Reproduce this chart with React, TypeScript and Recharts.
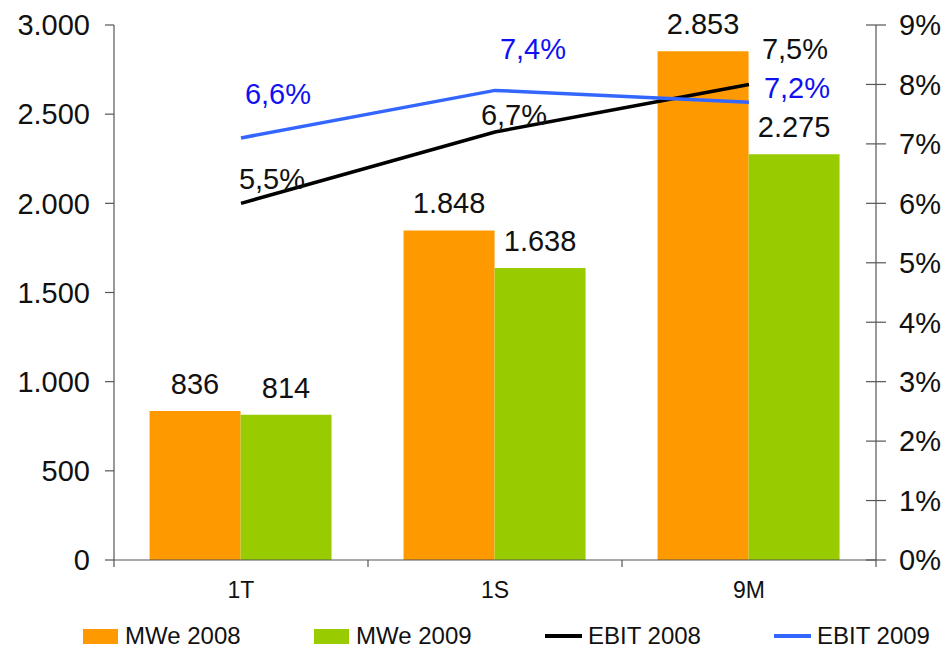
import React from 'react';
import { ComposedChart, Bar, Line, XAxis, YAxis, Legend, LabelList } from 'recharts';

const categories = ['1T', '1S', '9M'];
const mwe2008 = [836, 1848, 2853];
const mwe2009 = [814, 1638, 2275];
// plotted positions on the right (%) axis
const ebit2008 = [6.0, 7.2, 8.0];
const ebit2009 = [7.1, 7.9, 7.7];
// printed labels
const ebit2008Labels = ['5,5%', '6,7%', '7,5%'];
const ebit2009Labels = ['6,6%', '7,4%', '7,2%'];
const leftTicks = [0, 500, 1000, 1500, 2000, 2500, 3000];
const rightTicks = [0, 1, 2, 3, 4, 5, 6, 7, 8, 9];

const data = categories.map((c, i) => ({
  cat: c,
  mwe2008: mwe2008[i],
  mwe2009: mwe2009[i],
  ebit2008: ebit2008[i],
  ebit2009: ebit2009[i],
}));

const FONT = '"Liberation Sans", Arial, Helvetica, sans-serif';
const TEXT = '#111';
const AXIS = '#555';
const ORANGE = '#FF9900';
const GREEN = '#99CC00';
const BLACK = '#000000';
const BLUE = '#3366FF';
const BLUE_TEXT = '#1010F0';
const BIG = 29;

const fmt = (v: number) => {
  const s = String(Math.round(v));
  return s.replace(/\B(?=(\d{3})+(?!\d))/g, '.');
};

// label offsets (text centre relative to the point)
const black2008Off = [
  [31, -24],
  [19, -17],
  [46, -35],
];
const blue2009Off = [
  [37, -44],
  [38, -41],
  [48, -14],
];

const makeLineLabel = (labels: string[], offs: number[][], color: string) => (props: any) => {
  const { x, y, index } = props;
  if (x == null || y == null) return null;
  const [dx, dy] = offs[index] || [0, 0];
  return (
    <text
      x={x + dx}
      y={y + dy}
      textAnchor="middle"
      dominantBaseline="central"
      fontSize={BIG}
      fontFamily={FONT}
      fill={color}
    >
      {labels[index]}
    </text>
  );
};

const X_TICK_SIZE = 7;
const X_TICK_MARGIN = 15;

const XTick = (props: any) => {
  const { x, y, payload, index } = props;
  const half = payload && payload.offset ? payload.offset : 0;
  const axisY = y - X_TICK_SIZE - X_TICK_MARGIN;
  const lines = [<line key="l" x1={x - half} x2={x - half} y1={axisY} y2={axisY + X_TICK_SIZE} stroke={AXIS} strokeWidth={1.2} />];
  if (index === categories.length - 1) {
    lines.push(<line key="r" x1={x + half} x2={x + half} y1={axisY} y2={axisY + X_TICK_SIZE} stroke={AXIS} strokeWidth={1.2} />);
  }
  return (
    <g>
      {lines}
      <text x={x} y={y} dy="0.71em" textAnchor="middle" fontSize={23} fontFamily={FONT} fill={TEXT}>
        {payload.value}
      </text>
    </g>
  );
};

const R_TICK_SIZE = 10;
const R_TICK_MARGIN = 13;
const RightTick = (props: any) => {
  const { x, y, payload } = props;
  const ax = x - R_TICK_SIZE - R_TICK_MARGIN;
  return (
    <g>
      <line x1={ax - 10} x2={ax + 10} y1={y} y2={y} stroke={AXIS} strokeWidth={1.2} />
      <text x={x} y={y} dy="0.355em" textAnchor="start" fontSize={BIG} fontFamily={FONT} fill={TEXT}>
        {payload.value}%
      </text>
    </g>
  );
};

const legendItems = [
  { name: 'MWe 2008', color: ORANGE, kind: 'rect' },
  { name: 'MWe 2009', color: GREEN, kind: 'rect' },
  { name: 'EBIT 2008', color: BLACK, kind: 'line' },
  { name: 'EBIT 2009', color: BLUE, kind: 'line' },
];
const legendLeft = [83, 314, 545, 774];

const LegendContent = () => (
  <div style={{ position: 'relative', width: 945, height: 53, fontFamily: FONT }}>
    {legendItems.map((it, i) => (
      <div
        key={it.name}
        style={{
          position: 'absolute',
          left: legendLeft[i],
          top: 29,
          height: 22,
          display: 'flex',
          alignItems: 'center',
          whiteSpace: 'nowrap',
        }}
      >
        {it.kind === 'rect' ? (
          <div style={{ width: 35, height: 15, background: it.color, marginRight: 7 }} />
        ) : (
          <div style={{ width: 37, height: 4, background: it.color, marginRight: 6 }} />
        )}
        <span style={{ fontSize: 24, color: TEXT, lineHeight: '22px' }}>{it.name}</span>
      </div>
    ))}
  </div>
);

export default function App() {
  return (
    <div style={{ position: 'absolute', left: 0, top: 0, width: 945, height: 649, background: '#fff' }}>
      <ComposedChart
        width={945}
        height={649}
        data={data}
        margin={{ top: 25, right: 0, bottom: 0, left: 0 }}
        barCategoryGap="14%"
        barGap={0}
      >
        <XAxis
          dataKey="cat"
          height={36}
          tickLine={false}
          tickSize={X_TICK_SIZE}
          tickMargin={X_TICK_MARGIN}
          tick={<XTick />}
          axisLine={{ stroke: AXIS, strokeWidth: 1.2 }}
          interval={0}
        />
        <YAxis
          yAxisId="left"
          orientation="left"
          width={114}
          domain={[0, 3000]}
          ticks={leftTicks}
          tickFormatter={fmt}
          tickSize={9}
          tickMargin={15}
          tick={{ fontSize: BIG, fontFamily: FONT, fill: TEXT }}
          tickLine={{ stroke: AXIS, strokeWidth: 1.2 }}
          axisLine={{ stroke: AXIS, strokeWidth: 1.2 }}
          interval={0}
        />
        <YAxis
          yAxisId="right"
          orientation="right"
          width={69}
          domain={[0, 9]}
          ticks={rightTicks}
          tickSize={R_TICK_SIZE}
          tickMargin={R_TICK_MARGIN}
          tickLine={false}
          tick={<RightTick />}
          axisLine={{ stroke: AXIS, strokeWidth: 1.2 }}
          interval={0}
        />
        <Legend verticalAlign="bottom" content={<LegendContent />} />
        <Bar yAxisId="left" dataKey="mwe2008" name="MWe 2008" fill={ORANGE} isAnimationActive={false}>
          <LabelList
            dataKey="mwe2008"
            position="top"
            offset={17}
            formatter={(v: any) => fmt(Number(v))}
            style={{ fontSize: BIG, fontFamily: FONT, fill: TEXT }}
          />
        </Bar>
        <Bar yAxisId="left" dataKey="mwe2009" name="MWe 2009" fill={GREEN} isAnimationActive={false}>
          <LabelList
            dataKey="mwe2009"
            position="top"
            offset={17}
            formatter={(v: any) => fmt(Number(v))}
            style={{ fontSize: BIG, fontFamily: FONT, fill: TEXT }}
          />
        </Bar>
        <Line
          yAxisId="right"
          dataKey="ebit2008"
          name="EBIT 2008"
          stroke={BLACK}
          strokeWidth={3.5}
          dot={false}
          activeDot={false}
          isAnimationActive={false}
        >
          <LabelList dataKey="ebit2008" content={makeLineLabel(ebit2008Labels, black2008Off, TEXT)} />
        </Line>
        <Line
          yAxisId="right"
          dataKey="ebit2009"
          name="EBIT 2009"
          stroke={BLUE}
          strokeWidth={3.5}
          dot={false}
          activeDot={false}
          isAnimationActive={false}
        >
          <LabelList dataKey="ebit2009" content={makeLineLabel(ebit2009Labels, blue2009Off, BLUE_TEXT)} />
        </Line>
      </ComposedChart>
    </div>
  );
}
